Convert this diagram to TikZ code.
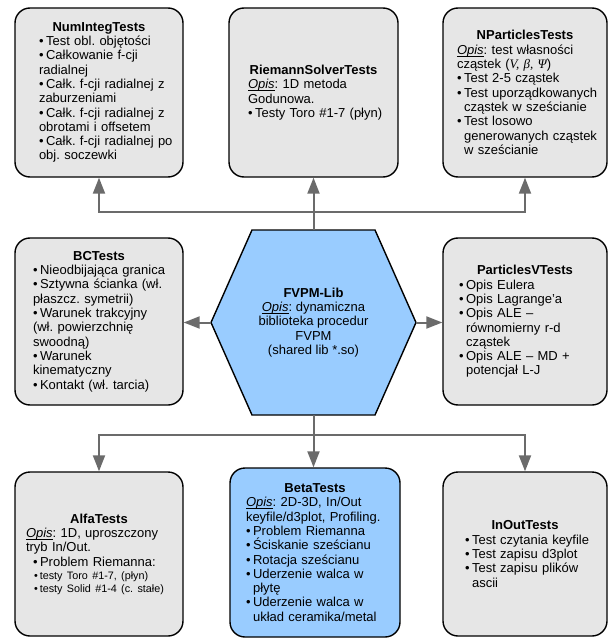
\documentclass[tikz,border=0pt]{standalone}
\usepackage{fontspec}
\setmainfont{Liberation Sans}
\newfontfamily\serifgr{Liberation Serif}
\usetikzlibrary{arrows.meta}
\definecolor{boxgray}{HTML}{E6E6E6}
\definecolor{boxblue}{HTML}{99CCFF}
\definecolor{conngray}{HTML}{6B6B6B}
\frenchspacing
\newlength\opisw
\newcommand\lnT[1]{{\centering\bfseries #1\par}}
\newcommand\lnB[2][0pt]{\noindent\mbox{\hspace{#1}\textbullet\hspace{2.5pt}#2}\par}
\newcommand\lnH[1]{\noindent\mbox{\phantom{\textbullet}\hspace{2.5pt}#1}\par}
\newcommand\lnP[1]{\noindent\mbox{#1}\par}
\newcommand\lnS[1]{{\fontsize{10.8}{13}\selectfont\noindent\mbox{\hspace{8pt}\textbullet\hspace{2pt}#1}\par}}
\newcommand\opis{\settowidth\opisw{\textit{Opis}}\rlap{\rule[-2pt]{\opisw}{0.6pt}}\textit{Opis}}
\tikzset{
  tbox/.style={draw=black, line width=1.4pt, rounded corners=15pt, fill=boxgray,
    inner sep=0pt, font=\fontsize{13}{14.3}\selectfont, align=left},
  conn/.style={draw=conngray, line width=2pt, -{Triangle[length=16pt,width=12pt]}},
}
\begin{document}
\begin{tikzpicture}[x=1pt,y=-1pt]
\useasboundingbox (0,0) rectangle (612,639);

% top row
\node[tbox, minimum width=168pt, minimum height=169pt, text width=120pt] (num) at (99,92.5) {%
\lnT{NumIntegTests}
\lnB{Test obl. objętości}
\lnB{Całkowanie f-cji}
\lnP{radialnej}
\lnB{Całk. f-cji radialnej z}
\lnP{zaburzeniami}
\lnB{Całk. f-cji radialnej z}
\lnP{obrotami i offsetem}
\lnB{Całk. f-cji radialnej po}
\lnP{obj. soczewki}};

\node[tbox, minimum width=169pt, minimum height=169pt, text width=131pt] (riem) at (313.5,92.5) {%
\lnT{RiemannSolverTests}
\lnP{\opis: 1D metoda}
\lnP{Godunowa.}
\lnB{Testy Toro \#1-7 (płyn)}};

\node[tbox, minimum width=164pt, minimum height=169pt, text width=136pt] (npart) at (525,92.5) {%
\lnT{NParticlesTests}
\lnP{\opis: test własności}
\lnP{cząstek ({\serifgr\itshape V, β, Ψ})}
\lnB{Test 2-5 cząstek}
\lnB{Test uporządkowanych}
\lnH{cząstek w sześcianie}
\lnB{Test losowo}
\lnH{generowanych cząstek}
\lnH{w sześcianie}};

% middle row
\node[tbox, minimum width=168pt, minimum height=167pt, text width=132pt] (bc) at (99,321.5) {%
\lnT{BCTests}
\lnB{Nieodbijająca granica}
\lnB{Sztywna ścianka (wł.}
\lnP{płaszcz. symetrii)}
\lnB{Warunek trakcyjny}
\lnP{(wł. powierzchnię}
\lnP{swoodną)}
\lnB{Warunek}
\lnP{kinematyczny}
\lnB{Kontakt (wł. tarcia)}
\vspace{12pt}};

\fill[boxblue, draw=black, line width=1.4pt, line join=miter]
  (252,230) -- (375,230) -- (416,322.5) -- (375,415) -- (252,415) -- (211,322.5) -- cycle;
\node[inner sep=0pt, minimum width=205pt, minimum height=185pt, align=center,
  font=\fontsize{13}{14.3}\selectfont] (lib) at (313.5,322.5) {%
\textbf{FVPM-Lib}\\
\opis: dynamiczna\\
biblioteka procedur\\
FVPM\\
(shared lib *.so)};

\node[tbox, minimum width=164pt, minimum height=167pt, text width=132pt] (pv) at (525,321.5) {%
\lnT{ParticlesVTests}
\lnB{Opis Eulera}
\lnB{Opis Lagrange'a}
\lnB{Opis ALE –}
\lnH{równomierny r-d}
\lnH{cząstek}
\lnB{Opis ALE – MD +}
\lnH{potencjał L-J}};

% bottom row
\node[tbox, minimum width=168pt, minimum height=164pt, text width=146pt] (alfa) at (99,554) {%
\lnT{AlfaTests}
\lnP{\opis: 1D, uproszczony}
\lnP{tryb In/Out.}
\lnB[7pt]{Problem Riemanna:}
\lnS{testy Toro \#1-7, (płyn)}
\lnS{testy Solid \#1-4 (c. stałe)}};

\node[tbox, fill=boxblue, minimum width=170pt, minimum height=169pt, text width=138pt] (beta) at (315,552.5) {%
\lnT{BetaTests}
\lnP{\opis: 2D-3D, In/Out}
\lnP{keyfile/d3plot, Profiling.}
\lnB{Problem Riemanna}
\lnB{Ściskanie sześcianu}
\lnB{Rotacja sześcianu}
\lnB{Uderzenie walca w}
\lnH{płytę}
\lnB{Uderzenie walca w}
\lnH{układ ceramika/metal}};

\node[tbox, minimum width=164pt, minimum height=164pt, text width=120pt] (inout) at (525,554) {%
\lnT{InOutTests}
\lnB{Test czytania keyfile}
\lnB{Test zapisu d3plot}
\lnB{Test zapisu plików}
\lnH{ascii}};

% connectors
\coordinate (tbus) at (313.5,212);
\coordinate (bbus) at (313.5,435);
\draw[conn] (lib.north) -- (riem.south);
\draw[conn] (tbus) -| (num.south);
\draw[conn] (tbus) -| (npart.south);
\draw[conn] (lib.west) -- (lib.west -| bc.east);
\draw[conn] (lib.east) -- (lib.east -| pv.west);
\draw[conn] (lib.south) -- (lib.south |- beta.north);
\draw[conn] (bbus) -| (alfa.north);
\draw[conn] (bbus) -| (inout.north);
\end{tikzpicture}
\end{document}
